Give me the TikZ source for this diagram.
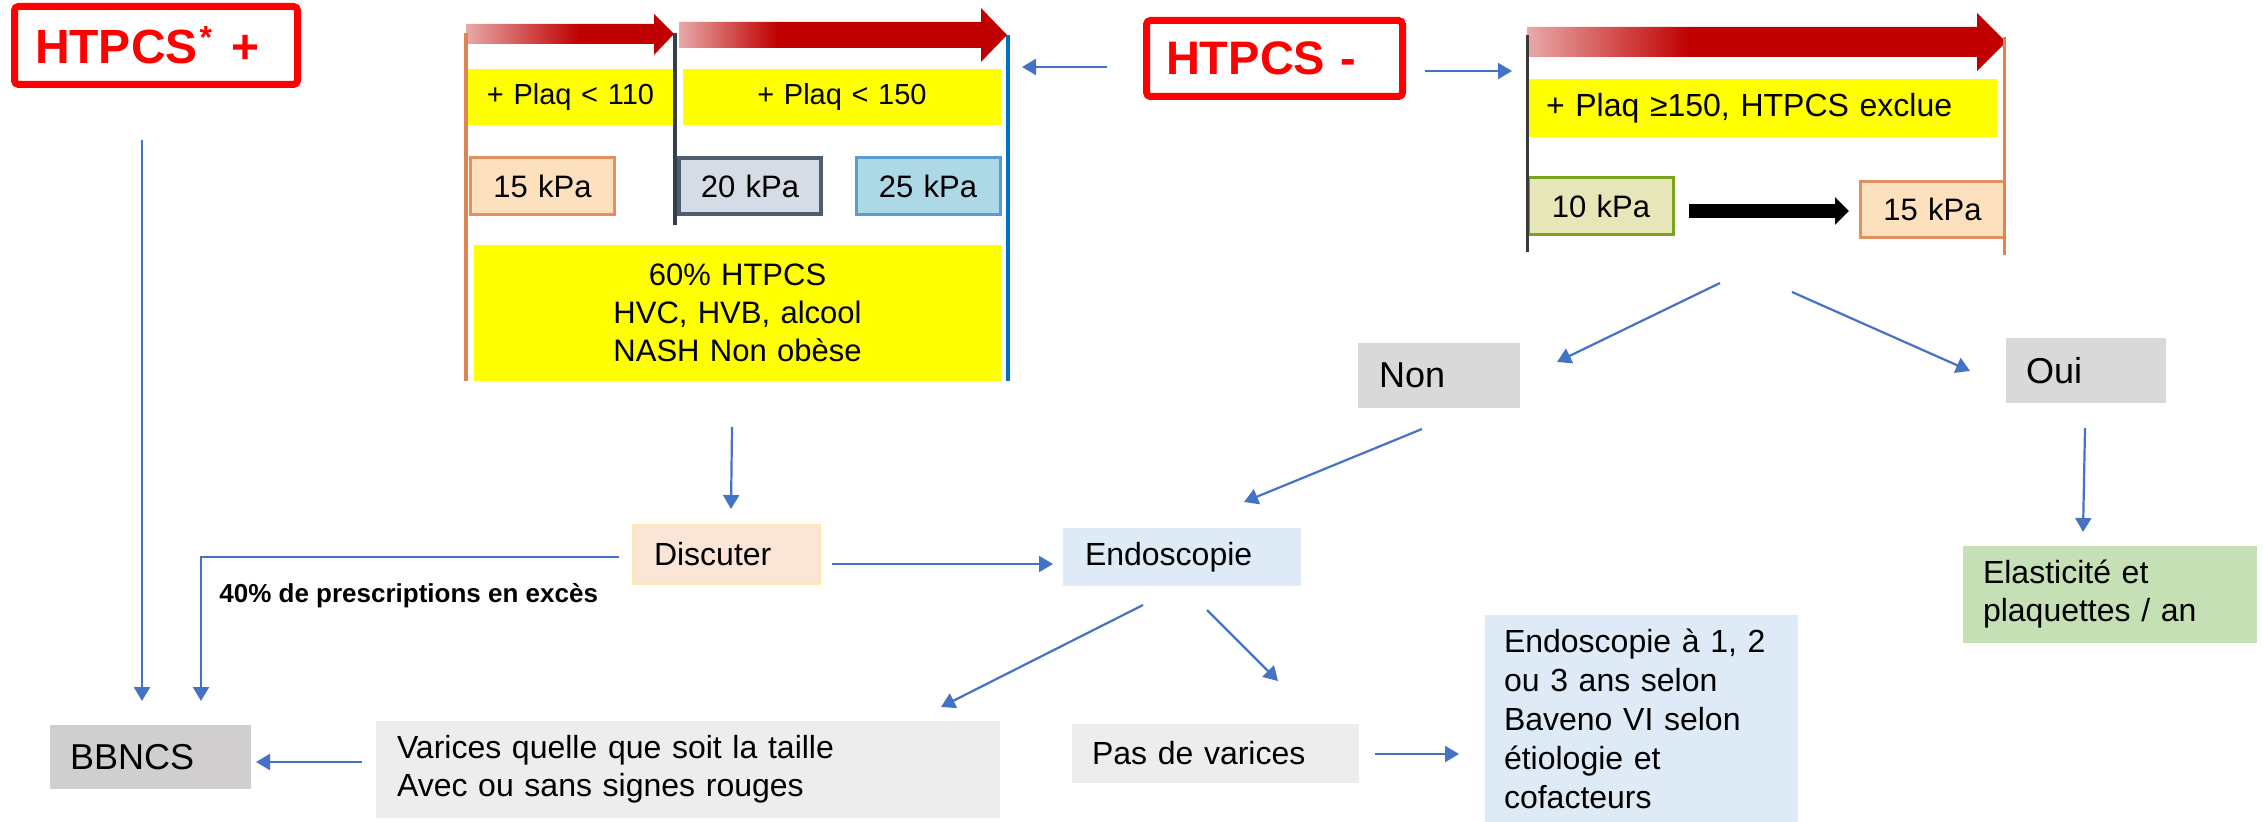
\documentclass[tikz,border=0pt]{standalone}
\usepackage{fontspec}
\setmainfont{Liberation Sans}
\usetikzlibrary{arrows.meta}
\definecolor{hred}{HTML}{FF0000}
\definecolor{dred}{HTML}{C00000}
\definecolor{pinkr}{HTML}{E8A9A9}
\definecolor{yel}{HTML}{FFFF00}
\definecolor{orl}{HTML}{DD8452}
\definecolor{darkl}{HTML}{333F50}
\definecolor{darkr}{HTML}{3A3A3A}
\definecolor{bluel}{HTML}{0070C0}
\definecolor{arr}{HTML}{4472C4}
\definecolor{peach}{HTML}{FDE1BE}
\definecolor{peachb}{HTML}{E0915F}
\definecolor{slatef}{HTML}{D6DCE5}
\definecolor{slateb}{HTML}{505D6E}
\definecolor{lbf}{HTML}{ADD8E6}
\definecolor{lbb}{HTML}{5B9BD5}
\definecolor{khf}{HTML}{E6E6B8}
\definecolor{khb}{HTML}{7AA21C}
\definecolor{grayA}{HTML}{D9D9D9}
\definecolor{grayB}{HTML}{D0CECE}
\definecolor{grayC}{HTML}{EDEDED}
\definecolor{blueF}{HTML}{DEEBF7}
\definecolor{discF}{HTML}{FBE5D6}
\definecolor{discB}{HTML}{FFE9A8}
\definecolor{greenF}{HTML}{C5E0B4}
\pgfdeclarehorizontalshading{gradA}{100bp}{color(0bp)=(pinkr); color(25bp)=(pinkr); color(52bp)=(dred); color(100bp)=(dred)}
\pgfdeclarehorizontalshading{gradB}{100bp}{color(0bp)=(pinkr); color(25bp)=(pinkr); color(40bp)=(dred); color(100bp)=(dred)}
\pgfdeclarehorizontalshading{gradC}{100bp}{color(0bp)=(pinkr); color(25bp)=(pinkr); color(42bp)=(dred); color(100bp)=(dred)}
\begin{document}
\begin{tikzpicture}[x=0.5pt,y=-0.5pt,
  barrow/.style={draw=arr, line width=1.1pt, -{Triangle[width=8pt,length=7pt]}},
  lbox/.style={align=left, inner ysep=0pt, anchor=center},
  cbox/.style={align=center, inner xsep=0pt, inner ysep=0pt, anchor=center},
  fa/.style={font=\fontsize{16}{19}\selectfont},
  fk/.style={font=\fontsize{15.5}{18}\selectfont},
  fb/.style={font=\fontsize{18}{21}\selectfont},
  hbox/.style={draw=hred, line width=3.5pt, rounded corners=2pt, fill=white, text=hred, lbox}
  ]
\useasboundingbox (0,0) rectangle (2263,822);

% red gradient arrows
\shade[shading=gradA] (466,24) -- (654,24) -- (654,14) -- (674,34) -- (654,55) -- (654,44) -- (466,44) -- cycle;
\shade[shading=gradB] (679,22) -- (981,22) -- (981,8) -- (1007,35) -- (981,62) -- (981,48) -- (679,48) -- cycle;
\shade[shading=gradC] (1527,27) -- (1977,27) -- (1977,13) -- (2006,42) -- (1977,71) -- (1977,57) -- (1527,57) -- cycle;

% title boxes
\node[hbox, text width=121pt, inner xsep=10.25pt, minimum height=39pt,
  font=\fontsize{24}{28}\selectfont\bfseries] (hp) at (156,45.5) {HTPCS\kern1pt\raisebox{7.5pt}{\fontsize{16}{16}\selectfont *}\kern1.5pt{} +};
\node[hbox, text width=108.5pt, inner xsep=9.75pt, minimum height=38pt,
  font=\fontsize{23.5}{28}\selectfont\bfseries] (hm) at (1274.5,58.5) {HTPCS -};

% left timeline
\node[fill=yel, cbox, text width=104.5pt, minimum height=28pt, font=\fontsize{14.5}{17}\selectfont] (p110) at (570.5,97) {+ Plaq < 110};
\node[fill=yel, cbox, text width=159pt, minimum height=28pt, font=\fontsize{14.5}{17}\selectfont] (p150) at (842,97) {+ Plaq < 150};
\node[fill=peach, draw=peachb, line width=1.5pt, cbox, text width=72pt, minimum height=28.5pt, fk] (k15a) at (542.5,186) {15 kPa};
\node[fill=slatef, draw=slateb, line width=1.7pt, cbox, text width=71pt, minimum height=28pt, fk] (k20) at (750,186) {20 kPa};
\node[fill=lbf, draw=lbb, line width=1.5pt, cbox, text width=72pt, minimum height=28.5pt, fk] (k25) at (928,186) {25 kPa};
\node[fill=yel, cbox, text width=263.5pt, minimum height=68pt, font=\fontsize{15.5}{19}\selectfont] (info) at (737.5,313) {60\% HTPCS\\HVC, HVB, alcool\\NASH Non obèse};

% right timeline
\node[fill=yel, lbox, text width=216pt, inner xsep=9.5pt, minimum height=29pt, fa] (pge) at (1762,108) {+ Plaq ≥150, HTPCS exclue};
\node[fill=khf, draw=khb, line width=1.5pt, cbox, text width=72.5pt, minimum height=28.5pt, fk] (k10) at (1601,206) {10 kPa};
\node[fill=peach, draw=peachb, line width=1.5pt, cbox, text width=72pt, minimum height=28pt, fk] (k15b) at (1932.5,209.5) {15 kPa};
\draw[black, line width=7pt, -{Triangle[width=13.5pt,length=7pt]}] ([xshift=7pt,yshift=-2.5pt]k10.east) -- ([xshift=-5pt,yshift=-0.75pt]k15b.west);

% timeline bars
\draw[orl, line width=2pt] (466,33) -- (466,381);
\draw[darkl, line width=2pt] (675,33) -- (675,225);
\draw[bluel, line width=2pt] (1008,35) -- (1008,381);
\draw[darkr, line width=1.5pt] (1527,35) -- (1527,252);
\draw[orl, line width=1.5pt] (2004,37) -- (2004,255);

% lower nodes
\node[fill=grayA, lbox, text width=60pt, inner xsep=10.5pt, minimum height=32.5pt, fb] (non) at (1439,375.5) {Non};
\node[fill=grayA, lbox, text width=60pt, inner xsep=10pt, minimum height=32.5pt, fb] (oui) at (2086,370.5) {Oui};
\node[fill=greenF, lbox, text width=127pt, inner xsep=10pt, minimum height=48.5pt, fa] (ela) at (2110,594.5) {Elasticité et\\plaquettes / an};
\node[fill=blueF, lbox, text width=137.5pt, inner xsep=9.5pt, minimum height=103.5pt, font=\fontsize{16}{19.5}\selectfont] (endo2) at (1641.5,718.5) {Endoscopie à 1, 2\\ou 3 ans selon\\Baveno VI selon\\étiologie et\\cofacteurs};
\node[fill=grayC, lbox, text width=123.5pt, inner xsep=10pt, minimum height=29.5pt, fa] (pas) at (1215.5,753.5) {Pas de varices};
\node[fill=blueF, lbox, text width=97pt, inner xsep=11pt, minimum height=29pt, fa] (endo) at (1182,557) {Endoscopie};
\node[fill=discF, draw=discB, line width=1pt, lbox, text width=72.5pt, inner xsep=10.5pt, minimum height=29.5pt, fa] (disc) at (726.5,554.5) {Discuter};
\node[fill=grayB, lbox, text width=80.5pt, inner xsep=10pt, minimum height=32pt, fb] (bb) at (150.5,757) {BBNCS};
\node[fill=grayC, lbox, text width=291pt, inner xsep=10.5pt, minimum height=48.5pt, fa] (var) at (688,769.5) {Varices quelle que soit la taille\\Avec ou sans signes rouges};
\node[anchor=west, inner sep=0pt, font=\fontsize{13}{15}\selectfont\bfseries] (lab) at (219,596) {40\% de prescriptions en excès};

% connector end points
\coordinate (ca1) at (1107,67);  \coordinate (ca2) at (1022,67);
\coordinate (cb1) at (1425,71);  \coordinate (cb2) at (1512,71);
\coordinate (cc1) at (1720,283); \coordinate (cc2) at (1557,362);
\coordinate (cd1) at (1792,292); \coordinate (cd2) at (1970,371);
\coordinate (ce1) at (1422,429); \coordinate (ce2) at (1244,502);
\coordinate (cf1) at (2085,428); \coordinate (cf2) at (2083,532);
\coordinate (cg1) at (1207,610); \coordinate (cg2) at (1278,681);
\coordinate (ch1) at (1143,605); \coordinate (ch2) at (941,707);
\coordinate (ci1) at (1375,754); \coordinate (ci2) at (1459,754);
\coordinate (cj1) at (832,564);  \coordinate (cj2) at (1053,564);
\coordinate (ck1) at (732,427);  \coordinate (ck2) at (731,509);
\coordinate (cl1) at (619,557);  \coordinate (cl2) at (201,557); \coordinate (cl3) at (201,701);
\coordinate (cm1) at (142,140);  \coordinate (cm2) at (142,701);
\coordinate (cn1) at (362,762);  \coordinate (cn2) at (256,762);

\draw[barrow] (ca1) -- (ca2);
\draw[barrow] (cb1) -- (cb2);
\draw[barrow] (cc1) -- (cc2);
\draw[barrow] (cd1) -- (cd2);
\draw[barrow] (ce1) -- (ce2);
\draw[barrow] (cf1) -- (cf2);
\draw[barrow] (cg1) -- (cg2);
\draw[barrow] (ch1) -- (ch2);
\draw[barrow] (ci1) -- (ci2);
\draw[barrow] (cj1) -- (cj2);
\draw[barrow] (ck1) -- (ck2);
\draw[barrow] (cl1) -- (cl2) -- (cl3);
\draw[barrow] (cm1) -- (cm2);
\draw[barrow] (cn1) -- (cn2);
\end{tikzpicture}
\end{document}
